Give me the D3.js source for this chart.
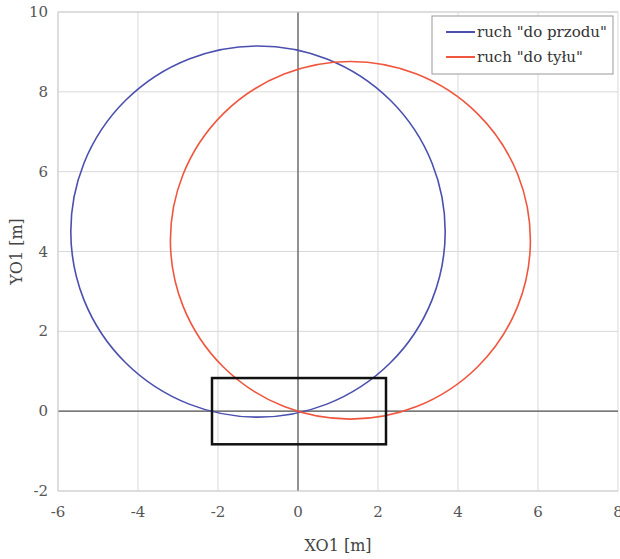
<!DOCTYPE html>
<html>
<head>
<meta charset="utf-8">
<script src="https://cdn.jsdelivr.net/npm/d3@7"></script>
<style>
  body { margin: 0; background: #fff; }
</style>
</head>
<body>
<div class="chart"></div>
<script>
// data
let xTicks = [-6, -4, -2, 0, 2, 4, 6, 8];
let yTicks = [-2, 0, 2, 4, 6, 8, 10];
let seriesNames = ['ruch "do przodu"', 'ruch "do tyłu"'];
let seriesColors = ["#4b4fae", "#f0563e"];
// circle paths: centre x, centre y, radius x, radius y [m]
let centerX = [-1.0, 1.31];
let centerY = [4.5, 4.28];
let radiusX = [4.68, 4.5];
let radiusY = [4.65, 4.48];
// vehicle outline [m]
let rectX = [-2.15, 2.2];
let rectY = [-0.83, 0.83];

let svgWidth = 620;
let svgHeight = 559;
let margin = { top: 12, right: 2, bottom: 68, left: 58 };

let svg = d3.select(".chart")
  .append("svg")
  .attr("width", svgWidth)
  .attr("height", svgHeight)
  .style("font-family", "'DejaVu Serif', 'Liberation Serif', serif");

let x = d3.scaleLinear().domain([-6, 8]).range([margin.left, svgWidth - margin.right]);
let y = d3.scaleLinear().domain([-2, 10]).range([svgHeight - margin.bottom, margin.top]);

// grid
svg.append("g")
  .selectAll("line")
  .data(xTicks)
  .enter()
  .append("line")
  .attr("x1", d => x(d)).attr("x2", d => x(d))
  .attr("y1", y(-2)).attr("y2", y(10))
  .attr("stroke", "#d9d9d9")
  .attr("stroke-width", 1);
svg.append("g")
  .selectAll("line")
  .data(yTicks)
  .enter()
  .append("line")
  .attr("x1", x(-6)).attr("x2", x(8))
  .attr("y1", d => y(d)).attr("y2", d => y(d))
  .attr("stroke", "#d9d9d9")
  .attr("stroke-width", 1);

// zero axes
svg.append("line")
  .attr("x1", x(0)).attr("x2", x(0))
  .attr("y1", y(-2)).attr("y2", y(10))
  .attr("stroke", "#555").attr("stroke-width", 1.2);
svg.append("line")
  .attr("x1", x(-6)).attr("x2", x(8))
  .attr("y1", y(0)).attr("y2", y(0))
  .attr("stroke", "#555").attr("stroke-width", 1.2);

// tick labels
svg.append("g")
  .selectAll("text")
  .data(xTicks)
  .enter()
  .append("text")
  .attr("x", d => x(d))
  .attr("y", y(-2) + 26)
  .attr("text-anchor", "middle")
  .attr("font-size", 15)
  .attr("fill", "#555")
  .text(d => d);
svg.append("g")
  .selectAll("text")
  .data(yTicks)
  .enter()
  .append("text")
  .attr("x", x(-6) - 10)
  .attr("y", d => y(d) + 5)
  .attr("text-anchor", "end")
  .attr("font-size", 15)
  .attr("fill", "#555")
  .text(d => d);

// axis titles
svg.append("text")
  .attr("x", 338)
  .attr("y", 551)
  .attr("text-anchor", "middle")
  .attr("font-size", 16)
  .attr("fill", "#444")
  .text("XO1 [m]");
svg.append("text")
  .attr("transform", `translate(22, ${y(4)}) rotate(-90)`)
  .attr("text-anchor", "middle")
  .attr("font-size", 16)
  .attr("fill", "#444")
  .text("YO1 [m]");

// circles
svg.append("g")
  .selectAll("ellipse")
  .data(seriesNames)
  .enter()
  .append("ellipse")
  .attr("cx", (d, i) => x(centerX[i]))
  .attr("cy", (d, i) => y(centerY[i]))
  .attr("rx", (d, i) => x(centerX[i] + radiusX[i]) - x(centerX[i]))
  .attr("ry", (d, i) => y(centerY[i] - radiusY[i]) - y(centerY[i]))
  .attr("fill", "none")
  .attr("stroke", (d, i) => seriesColors[i])
  .attr("stroke-width", 1.6);

// vehicle rectangle
svg.append("rect")
  .attr("x", x(rectX[0]))
  .attr("y", y(rectY[1]))
  .attr("width", x(rectX[1]) - x(rectX[0]))
  .attr("height", y(rectY[0]) - y(rectY[1]))
  .attr("fill", "none")
  .attr("stroke", "#111")
  .attr("stroke-width", 2.5);

// plot frame (left, top, bottom)
svg.append("path")
  .attr("d", `M${x(8)},${y(10)}H${x(-6)}V${y(-2)}H${x(8)}`)
  .attr("fill", "none")
  .attr("stroke", "#cfcfcf")
  .attr("stroke-width", 1);

// legend
let legend = svg.append("g").attr("transform", "translate(432, 16)");
legend.append("rect")
  .attr("width", 181).attr("height", 58)
  .attr("fill", "#fff")
  .attr("stroke", "#999")
  .attr("stroke-width", 1);
seriesNames.forEach(function(name, i) {
  legend.append("line")
    .attr("x1", 14).attr("x2", 43)
    .attr("y1", 16 + i * 25).attr("y2", 16 + i * 25)
    .attr("stroke", seriesColors[i])
    .attr("stroke-width", 2);
  legend.append("text")
    .attr("x", 45)
    .attr("y", 21 + i * 25)
    .attr("font-size", 15)
    .attr("fill", "#333")
    .text(name);
});
</script>
</body>
</html>
